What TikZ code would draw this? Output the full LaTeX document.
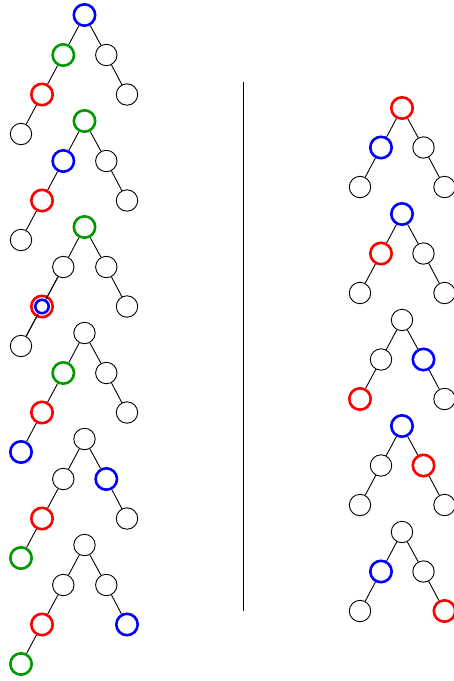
\documentclass[tikz,border=0pt]{standalone}
\usepackage{tikz}
\definecolor{tgreen}{RGB}{0,153,0}
\definecolor{tblue}{RGB}{0,0,255}
\definecolor{tred}{RGB}{255,0,0}
\begin{document}
\begin{tikzpicture}[x=1pt,y=-1pt,
  vk/.style={circle,draw=black,line width=0.9pt,minimum size=21.4pt,inner sep=0pt},
  vb/.style={vk,draw=tblue,line width=2.6pt},
  vg/.style={vk,draw=tgreen,line width=2.6pt},
  vr/.style={vk,draw=tred,line width=2.6pt},
  vin/.style={circle,draw=tblue,line width=2.6pt,minimum size=13.4pt,inner sep=0pt},
  link/.style={draw=black,line width=0.9pt}]
\useasboundingbox (0,0) rectangle (454,681);
% left column
\foreach \y/\sr/\sa/\sb/\sc/\sd/\se [count=\i] in {
  15/vb/vg/vk/vr/vk/vk,
  121/vg/vb/vk/vr/vk/vk,
  227/vg/vk/vk/vr/vk/vk,
  333/vk/vg/vk/vr/vk/vb,
  439/vk/vk/vb/vr/vk/vg,
  545/vk/vk/vk/vr/vb/vg}{
  \node[\sr] (L\i r) at (84.5,\y) {};
  \node[\sa] (L\i a) at (63.3,\y+40) {};
  \node[\sb] (L\i b) at (106.3,\y+40) {};
  \node[\sc] (L\i c) at (42,\y+79.5) {};
  \node[\sd] (L\i d) at (127,\y+79.5) {};
  \node[\se] (L\i e) at (21,\y+119) {};
  \draw[link] (L\i r) -- (L\i a);
  \draw[link] (L\i r) -- (L\i b);
  \draw[link] (L\i a) -- (L\i c);
  \draw[link] (L\i b) -- (L\i d);
  \draw[link] (L\i c) -- (L\i e);
}
\node[vin] (L3ci) at (L3c) {};
\draw[link] (L3a) -- (L3ci);
\draw[link] (L3ci) -- (L3e);
% right column
\foreach \y/\sr/\sa/\sb/\sc/\sd [count=\i] in {
  108/vr/vb/vk/vk/vk,
  214/vb/vr/vk/vk/vk,
  320/vk/vk/vb/vr/vk,
  426/vb/vk/vr/vk/vk,
  532/vk/vb/vk/vk/vr}{
  \node[\sr] (R\i r) at (402,\y) {};
  \node[\sa] (R\i a) at (381,\y+39.5) {};
  \node[\sb] (R\i b) at (423.5,\y+39.5) {};
  \node[\sc] (R\i c) at (360,\y+79) {};
  \node[\sd] (R\i d) at (444.5,\y+79) {};
  \draw[link] (R\i r) -- (R\i a);
  \draw[link] (R\i r) -- (R\i b);
  \draw[link] (R\i a) -- (R\i c);
  \draw[link] (R\i b) -- (R\i d);
}
% separator
\coordinate (sepTop) at (243.3,81.7);
\coordinate (sepBot) at (243.3,610.7);
\draw[black,line width=1.2pt] (sepTop) -- (sepBot);
\end{tikzpicture}
\end{document}
